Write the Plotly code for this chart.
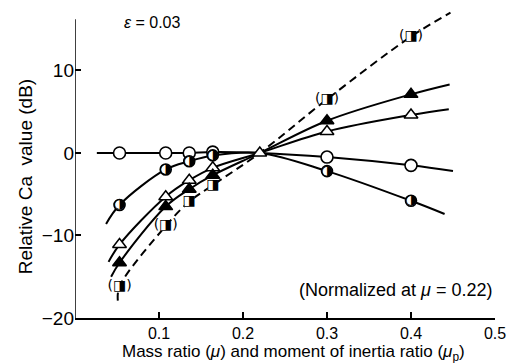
import plotly.graph_objects as go

# Mass ratio / moment-of-inertia ratio values at which Ca was evaluated
mu = [0.053, 0.108, 0.136, 0.164, 0.22, 0.30, 0.40]

# Relative Ca (dB), normalized at mu = 0.22
ca_open_circle = [0.0, 0.0, 0.0, 0.1, 0.0, -0.5, -1.5]
ca_half_circle = [-6.3, -2.0, -1.0, -0.3, 0.0, -2.2, -5.8]
ca_open_tri = [-11.1, -5.3, -3.3, -1.8, 0.0, 2.6, 4.6]
ca_filled_tri = [-13.3, -6.5, -4.4, -2.7, 0.0, 3.9, 7.1]
ca_square = [-16.2, -8.85, -5.9, -3.9, 0.0, 6.5, 14.1]

# Extents of each fitted curve beyond the measured points (start, end)
ends_open_circle = [(0.026, 0.0), (0.45, -2.2)]
ends_half_circle = [(0.037, -8.6), (0.44, -7.4)]
ends_open_tri = [(0.040, -13.2), (0.445, 5.3)]
ends_filled_tri = [(0.043, -15.0), (0.446, 8.3)]
ends_square = [(0.051, -17.9), (0.447, 17.0)]

# Square points shown in parentheses
square_labels = ["(◨)", "(◨)", "◨", "◨", "", "(◨)", "(◨)"]

x_ticks = [0.1, 0.2, 0.3, 0.4, 0.5]
x_tick_text = ["0.1", "0.2", "0.3", "0.4", "0.5"]
y_ticks = [-20, -10, 0, 10]
y_tick_text = ["−20", "−10", "0", "10"]

FONT = "Liberation Sans, Arial, sans-serif"
TICKFONT = "Liberation Sans Narrow, Liberation Sans, Arial, sans-serif"
NORM = 4  # index of the normalization point mu = 0.22

fig = go.Figure()


def curve(vals, ends, dash="solid"):
    xs = [ends[0][0]] + mu + [ends[1][0]]
    ys = [ends[0][1]] + vals + [ends[1][1]]
    fig.add_trace(go.Scatter(
        x=xs, y=ys, mode="lines",
        line=dict(color="black", width=2, shape="spline", smoothing=1.0, dash=dash),
        hoverinfo="skip", showlegend=False))


curve(ca_open_circle, ends_open_circle)
curve(ca_half_circle, ends_half_circle)
curve(ca_open_tri, ends_open_tri)
curve(ca_filled_tri, ends_filled_tri)
curve(ca_square, ends_square, dash="8px,5px")


def pts(vals):
    idx = [i for i in range(len(mu)) if i != NORM]
    return [mu[i] for i in idx], [vals[i] for i in idx]


# Open circles
x, y = pts(ca_open_circle)
fig.add_trace(go.Scatter(x=x, y=y, mode="markers", showlegend=False,
                         marker=dict(symbol="circle", size=12, color="white",
                                     line=dict(color="black", width=1.6))))

# Half-filled circles: white disc underneath, half-black glyph on top
x, y = pts(ca_half_circle)
fig.add_trace(go.Scatter(x=x, y=y, mode="markers", showlegend=False,
                         marker=dict(symbol="circle", size=11, color="white",
                                     line=dict(color="black", width=1.6))))
fig.add_trace(go.Scatter(x=x, y=y, mode="text", text=["◑"] * len(x), showlegend=False,
                         textposition="middle center",
                         textfont=dict(family="DejaVu Sans", size=14, color="black")))

# Open triangles (including the common normalization point)
fig.add_trace(go.Scatter(x=mu, y=ca_open_tri, mode="markers", showlegend=False,
                         marker=dict(symbol="triangle-up", size=12, color="white",
                                     line=dict(color="black", width=1.5))))

# Filled triangles
x, y = pts(ca_filled_tri)
fig.add_trace(go.Scatter(x=x, y=y, mode="markers", showlegend=False,
                         marker=dict(symbol="triangle-up", size=12, color="black",
                                     line=dict(color="black", width=1.5))))

# Squares (dashed curve), some labelled in parentheses
x, y = pts(ca_square)
labels = [square_labels[i] for i in range(len(mu)) if i != NORM]
fig.add_trace(go.Scatter(x=x, y=y, mode="markers", showlegend=False,
                         marker=dict(symbol="square", size=10, color="white",
                                     line=dict(width=0))))
fig.add_trace(go.Scatter(x=x, y=y, mode="text", text=labels, showlegend=False,
                         textposition="middle center",
                         textfont=dict(family="DejaVu Sans", size=14, color="black")))

# Vertical axis line (drawn only up to the top of the frame)
fig.add_shape(type="line", xref="x", yref="y", x0=0, x1=0, y0=-20, y1=16.2,
              line=dict(color="black", width=1.5))

fig.add_annotation(x=0.092, y=15.8, xref="x", yref="y", showarrow=False,
                   text="<i>ε</i> = 0.03", font=dict(family=FONT, size=16, color="black"))
fig.add_annotation(x=0.3815, y=-16.6, xref="x", yref="y", showarrow=False,
                   text="(Normalized at <i>μ</i> = 0.22)",
                   font=dict(family=FONT, size=18, color="black"))
fig.add_annotation(x=0.52, y=-0.115, xref="paper", yref="paper", showarrow=False,
                   xanchor="center", yanchor="middle",
                   text="Mass ratio (<i>μ</i>) and moment of inertia ratio (<i>μ</i><sub>p</sub>)",
                   font=dict(family=FONT, size=17, color="black"))
fig.add_annotation(x=-0.118, y=0.46, xref="paper", yref="paper", showarrow=False,
                   xanchor="center", yanchor="middle", textangle=-90,
                   text="Relative Ca  value (dB)",
                   font=dict(family=FONT, size=19, color="black"))

fig.update_layout(
    width=516, height=363,
    margin=dict(l=75, r=21, t=11, b=45),
    paper_bgcolor="white", plot_bgcolor="white",
    showlegend=False,
    xaxis=dict(range=[0, 0.5], tickvals=x_ticks, ticktext=x_tick_text,
               ticks="inside", ticklen=6, tickwidth=1.5, tickcolor="black",
               showline=True, linecolor="black", linewidth=1.5, showgrid=False,
               zeroline=False, tickfont=dict(family=TICKFONT, size=16, color="black")),
    yaxis=dict(range=[-20, 17.2], tickvals=y_ticks, ticktext=y_tick_text,
               ticks="inside", ticklen=6, tickwidth=1.5, tickcolor="black",
               showline=False, showgrid=False, zeroline=False,
               tickfont=dict(family=TICKFONT, size=19, color="black")),
)

fig.write_html("out.html")
